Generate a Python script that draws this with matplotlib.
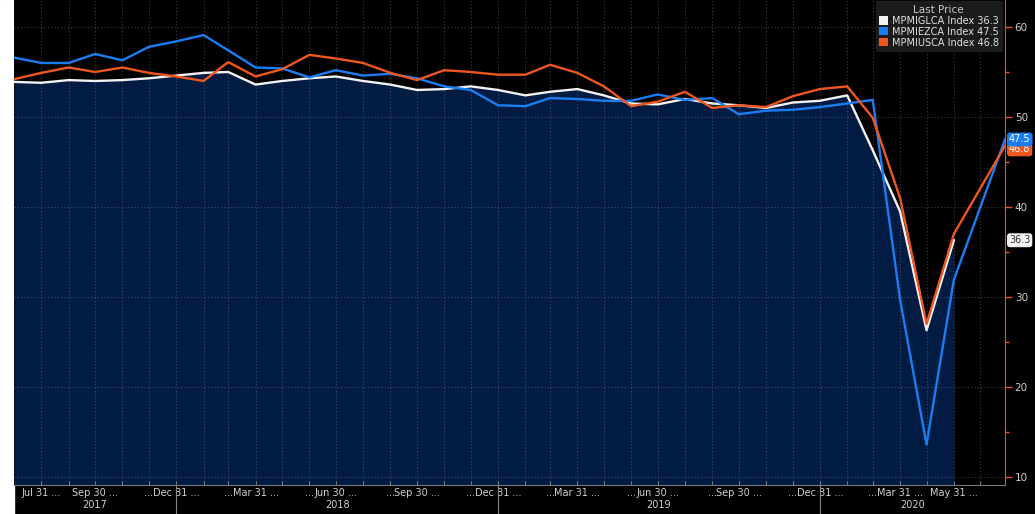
import matplotlib
matplotlib.use('Agg')
import matplotlib.pyplot as plt
from matplotlib.patches import Rectangle, Patch
from matplotlib.ticker import MultipleLocator
import pandas as pd

# month-end dates Jun 2017 .. May 2020
months = pd.date_range('2017-06-01', periods=36, freq='MS') + pd.offsets.MonthEnd(0)
# Bloomberg puts the latest (June flash) value at the chart date
last_date = pd.Timestamp('2020-07-28')
dates_full = list(months) + [last_date]

# MPMIGLCA Index (global composite), ends May 2020
glca = [53.9, 53.8, 54.1, 54.0, 54.1, 54.3, 54.6, 54.9, 55.0, 53.6, 54.0, 54.3,
        54.5, 54.0, 53.6, 53.0, 53.1, 53.4, 53.0, 52.4, 52.8, 53.1, 52.4, 51.5,
        51.4, 52.0, 51.5, 51.3, 51.0, 51.6, 51.8, 52.4, 46.3, 39.5, 26.3, 36.3]
# MPMIEZCA Index (eurozone composite)
miez = [56.6, 56.0, 56.0, 57.0, 56.3, 57.8, 58.4, 59.1, 57.4, 55.5, 55.4, 54.4,
        55.2, 54.6, 54.8, 54.3, 53.4, 53.0, 51.3, 51.2, 52.1, 52.0, 51.8, 51.8,
        52.5, 51.9, 52.1, 50.3, 50.7, 50.8, 51.1, 51.5, 51.9, 29.7, 13.6, 31.9, 47.5]
# MPMIUSCA Index (US composite)
mius = [54.2, 54.9, 55.5, 55.0, 55.5, 54.9, 54.5, 54.0, 56.1, 54.5, 55.3, 56.9,
        56.5, 56.0, 54.9, 54.1, 55.2, 55.0, 54.7, 54.7, 55.8, 54.9, 53.4, 51.2,
        51.7, 52.8, 51.0, 51.3, 51.1, 52.3, 53.1, 53.4, 49.9, 41.0, 27.0, 37.0, 46.8]

names = ['MPMIGLCA Index', 'MPMIEZCA Index', 'MPMIUSCA Index']
colors = ['#f2f2f2', '#1a7ef2', '#f0571e']
navy = '#021b42'
orange_axis = '#e8521c'
narrow = ['Liberation Sans Narrow', 'DejaVu Sans']

fig = plt.figure(figsize=(10.35, 5.14), dpi=100, facecolor='black')
fig.add_artist(Rectangle((0, 0), 14 / 1035, 1, transform=fig.transFigure,
                         color='white', zorder=-1))
ax = fig.add_axes([14 / 1035, 1 - 485 / 514, (1005 - 14) / 1035, 485 / 514])
ax.set_facecolor('black')

# area under the global series
ax.fill_between(months, glca, 0, color=navy, lw=0, zorder=1)

ax.plot(months, glca, color=colors[0], lw=1.7, zorder=3)
ax.plot(dates_full, miez, color=colors[1], lw=1.7, zorder=3)
ax.plot(dates_full, mius, color=colors[2], lw=1.7, zorder=3)

ax.set_xlim(months[0], last_date)
ax.set_ylim(9.1, 63)

# y axis on the right, orange spine
ax.yaxis.tick_right()
ax.yaxis.set_major_locator(MultipleLocator(10))
ax.yaxis.set_minor_locator(MultipleLocator(5))
ax.tick_params(axis='y', which='both', colors=orange_axis, labelcolor='#cfcfcf',
               labelsize=7.5, width=1, pad=2)
ax.tick_params(axis='y', which='major', length=5)
ax.tick_params(axis='y', which='minor', length=3)
for s in ['left', 'top']:
    ax.spines[s].set_visible(False)
ax.spines['right'].set_color(orange_axis)
ax.spines['bottom'].set_color('#777777')
ax.spines['bottom'].set_linewidth(0.8)

# x ticks at every month end, Bloomberg-style truncated labels
ticks = pd.date_range('2017-07-01', periods=36, freq='MS') + pd.offsets.MonthEnd(0)
labels = []
for t in ticks:
    if t.month in (3, 6, 9, 12) or (t.year, t.month) in [(2017, 7), (2020, 5)]:
        labels.append(t.strftime('%b %d') + ' ...')
    elif t.month in (2, 5, 8, 11) and (t.year, t.month) != (2017, 8):
        labels.append('...')
    else:
        labels.append('')
labels[-1] = ''
ax.set_xticks(ticks)
ax.set_xticklabels(labels, family=narrow)
ax.tick_params(axis='x', colors='#777777', labelcolor='#d0d0d0', labelsize=7,
               length=3, direction='in', pad=2)

ax.grid(True, which='major', color='#8a8a8a', alpha=0.45, lw=0.8,
        linestyle=(0, (1, 2)), zorder=2)
ax.set_axisbelow('line')

# year labels and separators
years = [2017, 2018, 2019, 2020]
for y in years:
    lo = max(pd.Timestamp(f'{y - 1}-12-31'), months[0])
    hi = min(pd.Timestamp(f'{y}-12-31'), last_date)
    mid = lo + (hi - lo) / 2
    ax.text(mid, -0.041, str(y), transform=ax.get_xaxis_transform(),
            ha='center', va='center', fontsize=7, color='#d0d0d0', family=narrow)
    if y < 2020:
        ax.plot([pd.Timestamp(f'{y}-12-31')] * 2, [0, -0.06],
                transform=ax.get_xaxis_transform(), color='#888888', lw=0.8,
                clip_on=False)

# legend
handles = [Patch(facecolor=c, edgecolor='none') for c in colors]
leg_labels = [f'{names[0]} {glca[-1]}', f'{names[1]} {miez[-1]}', f'{names[2]} {mius[-1]}']
leg = ax.legend(handles, leg_labels, title='Last Price', loc='upper right',
                bbox_to_anchor=(0.997, 0.997), fontsize=7, title_fontsize=7.5,
                facecolor='#1b1b1b', edgecolor='#1b1b1b', framealpha=1,
                labelcolor='#e0e0e0', handlelength=0.9, handleheight=0.9,
                handletextpad=0.4, labelspacing=0.1, borderpad=0.35,
                borderaxespad=0)
leg.get_title().set_color('#c8c8c8')

# last value tags on the right axis (orange one sits mostly behind the blue one)
tags = [(mius[-1], colors[2], 'white', -0.4), (miez[-1], colors[1], 'white', 0),
        (glca[-1], colors[0], '#333333', 0)]
for val, fc, tc, nudge in tags:
    ax.text(1.004, val + nudge, f'{val}', transform=ax.get_yaxis_transform(),
            ha='left', va='center', fontsize=7, color=tc, clip_on=False,
            bbox=dict(boxstyle='round,pad=0.2,rounding_size=0.3', fc=fc, ec='none'))

plt.savefig('out.png', dpi=100, facecolor=fig.get_facecolor())
